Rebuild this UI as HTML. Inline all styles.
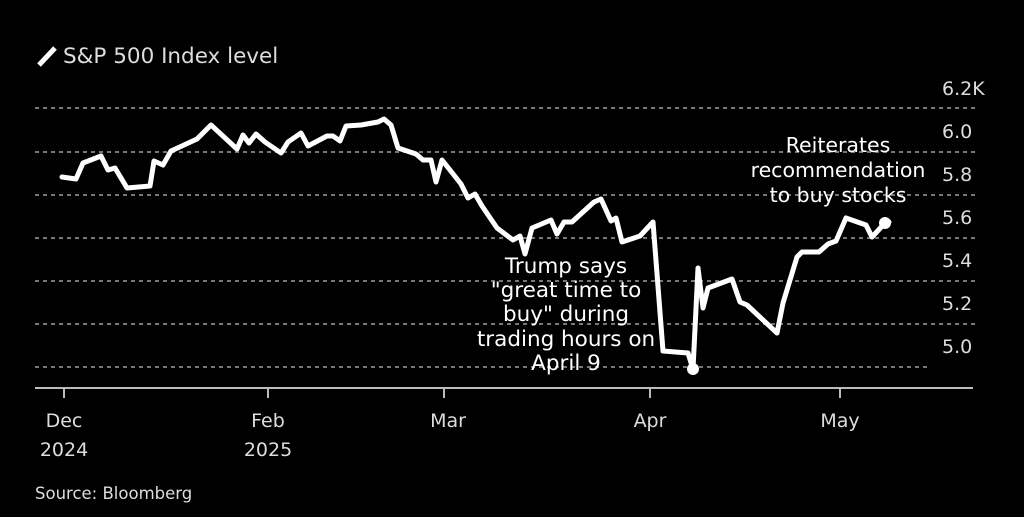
<!DOCTYPE html>
<html><head><meta charset="utf-8"><style>
body{margin:0;background:#000;width:1024px;height:512px;overflow:hidden}
svg text{font-family:"DejaVu Sans","Liberation Sans",sans-serif}
</style></head><body>
<svg width="1024" height="512" viewBox="0 0 1024 512">
<g stroke="#777" stroke-width="2" stroke-dasharray="4,4">
<line x1="35" y1="108" x2="975" y2="108"/>
<line x1="35" y1="152" x2="975" y2="152"/>
<line x1="35" y1="195" x2="975" y2="195"/>
<line x1="35" y1="238" x2="975" y2="238"/>
<line x1="35" y1="281" x2="975" y2="281"/>
<line x1="35" y1="324" x2="975" y2="324"/>
<line x1="35" y1="367" x2="930" y2="367"/>
</g>
<line x1="35" y1="388" x2="973" y2="388" stroke="#bbb" stroke-width="2"/>
<g stroke="#bbb" stroke-width="2">
<line x1="64" y1="388" x2="64" y2="398"/><line x1="268" y1="388" x2="268" y2="398"/>
<line x1="444" y1="388" x2="444" y2="398"/><line x1="650" y1="388" x2="650" y2="398"/>
<line x1="840" y1="388" x2="840" y2="398"/>
</g>
<g fill="#ddd" font-size="19">
<text x="942" y="95">6.2K</text><text x="942" y="138">6.0</text><text x="942" y="181">5.8</text>
<text x="942" y="224">5.6</text><text x="942" y="267">5.4</text><text x="942" y="310">5.2</text>
<text x="942" y="353">5.0</text>
</g>
<g fill="#ddd" font-size="19" text-anchor="middle">
<text x="64" y="427">Dec</text><text x="64" y="456">2024</text>
<text x="268" y="427">Feb</text><text x="268" y="456">2025</text>
<text x="448" y="427">Mar</text><text x="650" y="427">Apr</text><text x="840" y="427">May</text>
</g>
<polyline fill="none" stroke="#fff" stroke-width="5" stroke-linejoin="round" stroke-linecap="round" points="62,177 76,179 83,163 101,156 108,170 115,168 127,188 150,186 154,161 163,165 171,151 197,139 211,125 237,149 243,135 249,143 256,134 265,142 281,153 288,142 301,133 308,146 327,136 333,136 340,141 346,126 361,125 378,122 384,119 391,125 398,148 416,154 423,160 431,160 436,182 442,160 450,170 461,184 468,198 475,194 482,206 497,228 513,240 520,236 525,254 532,228 551,220 557,234 564,222 572,222 594,202 601,199 611,221 616,218 622,242 640,236 653,222 663,351 688,353 693,369 698,268 703,308 708,288 732,279 740,302 747,305 777,333 783,303 797,257 802,252 819,252 828,244 836,241 846,218 866,225 872,237 885,223 889,222"/>
<circle cx="693" cy="369" r="6" fill="#fff"/>
<circle cx="885" cy="223" r="6" fill="#fff"/>
<g fill="#fff" font-size="21.5" text-anchor="middle">
<text x="566" y="273">Trump says</text>
<text x="566" y="297">"great time to</text>
<text x="566" y="321">buy" during</text>
<text x="566" y="346">trading hours on</text>
<text x="566" y="370">April 9</text>
</g>
<g fill="#fff" font-size="20.5" text-anchor="middle">
<text x="838" y="152">Reiterates</text>
<text x="838" y="177">recommendation</text>
<text x="838" y="202">to buy stocks</text>
</g>
<line x1="39" y1="65" x2="55" y2="48" stroke="#fff" stroke-width="5"/>
<text x="63" y="63" fill="#ddd" font-size="21.5">S&amp;P 500 Index level</text>
<text x="35" y="499" fill="#ddd" font-size="16.5">Source: Bloomberg</text>
</svg>
</body></html>
